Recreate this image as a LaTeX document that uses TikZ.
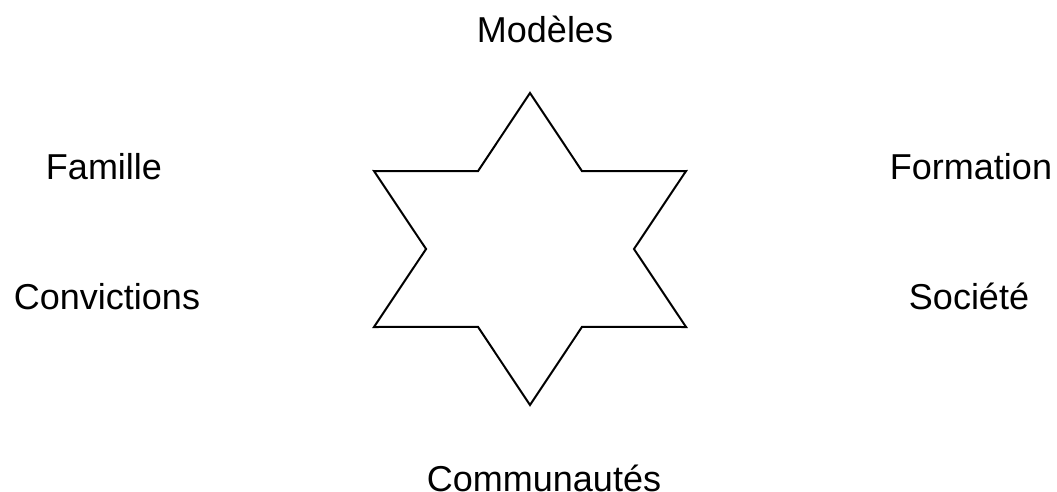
\documentclass[tikz,border=0pt]{standalone}
\usepackage{fontspec}
\setmainfont{Liberation Sans}
\usetikzlibrary{positioning}

\begin{document}
\begin{tikzpicture}[x=1pt,y=-1pt,
  topic/.style={anchor=base,inner sep=0pt,font=\fontsize{36}{43}\selectfont},
  star/.style={draw=black,line width=2pt,line join=miter},
]
\useasboundingbox (0,0) rectangle (1057,492);
% hexagram in the middle
\begin{scope}[shift={(530,249)},xscale=1.155]
\draw[star] (90:156) \foreach \a in {150,210,...,390} {-- (\a-30:90) -- (\a:156)} -- (60:90) -- cycle;
\end{scope}
% the six words round it
\node[topic] (modeles) at (545,43) {Modèles};
\node[topic] (famille) at (104,179) {Famille};
\node[topic] (formation) at (971,179) {Formation};
\node[topic] (convictions) at (107,309) {Convictions};
\node[topic] (societe) at (969,309) {Société};
\node[topic] (communautes) at (544,491) {Communautés};
\end{tikzpicture}
\end{document}
